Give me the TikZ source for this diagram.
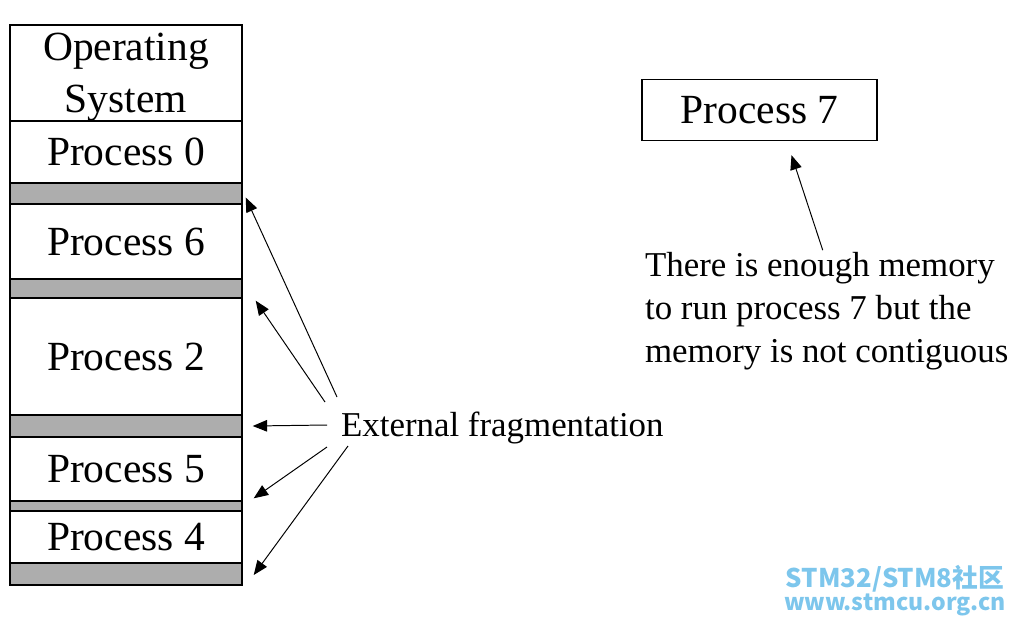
\documentclass[tikz,border=0pt]{standalone}
\usepackage{fontspec}
\setmainfont{Liberation Serif}
\newfontfamily\cjk{Noto Sans CJK SC}
\usetikzlibrary{arrows.meta,calc}
\definecolor{wmblue}{RGB}{125,198,236}
\newcommand{\colw}{232}

\begin{document}
\begin{tikzpicture}[x=0.025cm, y=-0.025cm,
    block/.style={draw, line width=1pt, fill=white, minimum width=\colw*0.025cm, inner sep=0pt, font=\fontsize{29.5}{37}\selectfont},
    hole/.style={draw, line width=1pt, fill=gray!64, minimum width=\colw*0.025cm, inner sep=0pt},
    label/.style={inner sep=2pt, font=\fontsize{24.8}{30.5}\selectfont},
    pointer/.style={line width=0.7pt, -{Triangle[length=0.36cm, width=0.29cm]}},
    mark text/.style={text=wmblue, inner sep=0pt}]

        \useasboundingbox (0,0) rectangle (1016,626);

        % memory column
        \node[block, minimum height=96*0.025cm, align=center, text depth=0pt] (os) at (126,73) {Operating\\System};
        \node[block, minimum height=62*0.025cm] (p0) at (126,152) {Process 0};
        \node[hole, minimum height=21*0.025cm] (h1) at (126,193.5) {};
        \node[block, minimum height=75*0.025cm] (p6) at (126,241.5) {Process 6};
        \node[hole, minimum height=19*0.025cm] (h2) at (126,288.5) {};
        \node[block, minimum height=117*0.025cm] (p2) at (126,356.5) {Process 2};
        \node[hole, minimum height=22*0.025cm] (h3) at (126,426) {};
        \node[block, minimum height=64*0.025cm] (p5) at (126,469) {Process 5};
        \node[hole, minimum height=10*0.025cm] (h4) at (126,506) {};
        \node[block, minimum height=52*0.025cm] (p4) at (126,537) {Process 4};
        \node[hole, minimum height=22*0.025cm] (h5) at (126,574) {};

        \node[block, minimum width=235*0.025cm, minimum height=61*0.025cm] (p7) at (759.5,110) {Process 7};

        \node[label, anchor=west] (frag) at (338,428) {External fragmentation};
        \node[label, anchor=west, align=left] (note) at (642,311) {There is enough memory\\to run process 7 but the\\memory is not contiguous};

        \coordinate (t1) at (337,397);
        \coordinate (t2) at (325,402);
        \coordinate (t3) at (327,425);
        \coordinate (t4) at (327,447);
        \coordinate (t5) at (348,446);

        \draw[pointer] (t1) -- ($(h1.east)+(3,4)$);
        \draw[pointer] (t2) -- ($(h2.south east)+(13,2)$);
        \draw[pointer] (t3) -- ($(h3.east)+(10,0)$);
        \draw[pointer] (t4) -- ($(h4.north east)+(11,-2)$);
        \draw[pointer] (t5) -- ($(h5.east)+(11,1)$);

        \draw[pointer] ($(note.north)+(-4,1)$) -- ($(p7.south)+(32,14)$);

        % watermark
        \node[mark text, font=\cjk\bfseries\fontsize{18.3}{20}\selectfont] (wm1) at (895,578.5) {STM32/STM8社区};
        \node[mark text, font=\cjk\bfseries\fontsize{16.4}{18}\selectfont] (wm2) at (895,605) {www.stmcu.org.cn};

    \end{tikzpicture}
\end{document}
